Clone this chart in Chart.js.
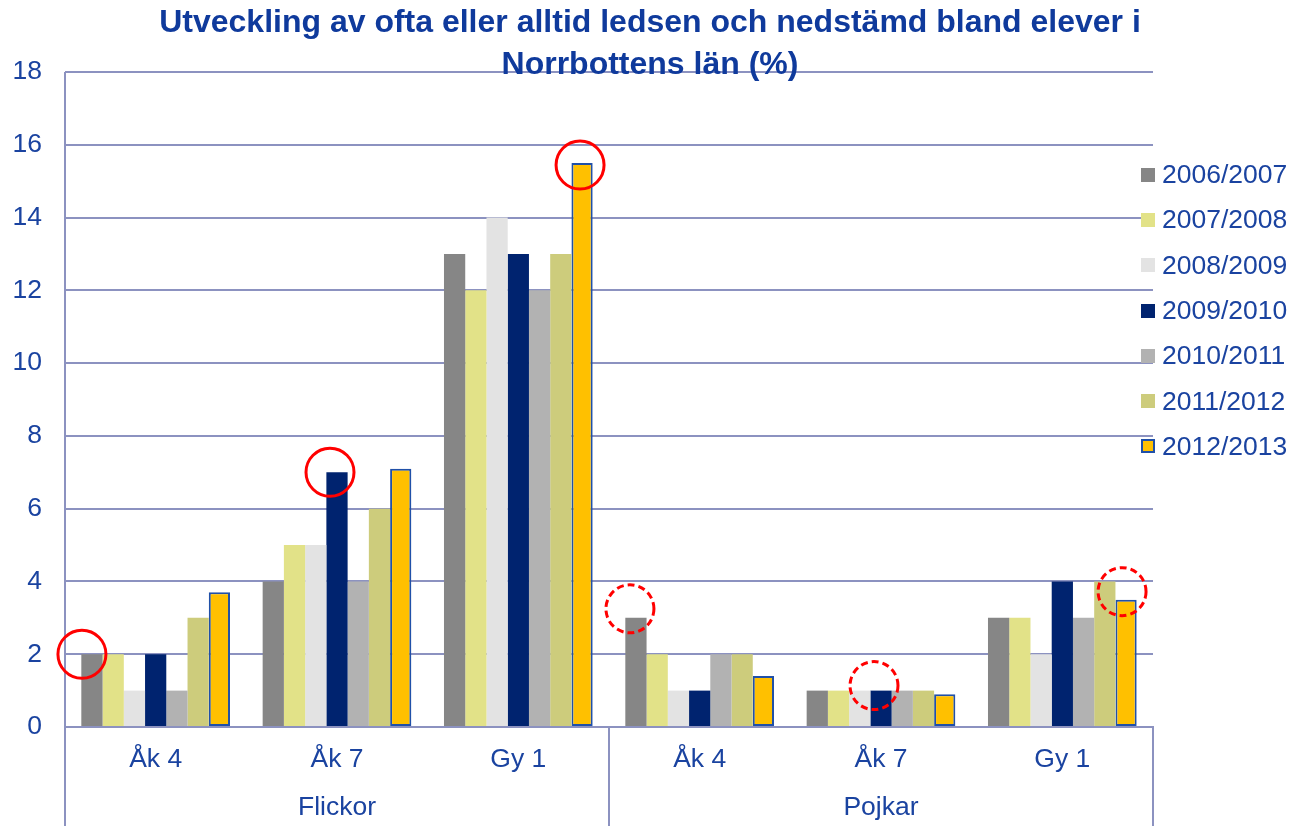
<!DOCTYPE html>
<html lang="sv">
<head>
  <meta charset="UTF-8">
  <title>Utveckling av ofta eller alltid ledsen och nedstämd</title>
  <script src="https://cdn.jsdelivr.net/npm/chart.js"></script>
  <style>
    body {
      margin: 0;
      background: #fff;
      font-family: Arial, "Liberation Sans", sans-serif;
    }
    .wrap {
      position: relative;
      width: 1293px;
      height: 826px;
    }
    .title {
      position: absolute;
      top: 0px;
      left: 0;
      width: 1300px;
      text-align: center;
      font-weight: bold;
      font-size: 32px;
      line-height: 42px;
      color: #0f3a9c;
    }
    .legend {
      position: absolute;
      left: 1141px;
      top: 152px;
      color: #1a43a0;
      font-size: 26.5px;
    }
    .legend div {
      height: 45.3px;
      display: flex;
      align-items: center;
      white-space: nowrap;
    }
    .legend span.box {
      display: inline-block;
      width: 14px;
      height: 14px;
      margin-right: 7px;
      box-sizing: border-box;
    }
    canvas { position: absolute; left: 0; top: 0; }
  </style>
</head>
<body>
  <div class="wrap">
    <canvas id="chart" width="1293" height="826"></canvas>
    <div class="title">Utveckling av ofta eller alltid ledsen och nedstämd bland elever i<br>Norrbottens län (%)</div>
    <div class="legend" id="legend"></div>
  </div>

  <script>
    const categories = ['Åk 4', 'Åk 7', 'Gy 1', 'Åk 4', 'Åk 7', 'Gy 1'];
    const groups = ['Flickor', 'Pojkar'];
    const years = ['2006/2007', '2007/2008', '2008/2009', '2009/2010', '2010/2011', '2011/2012', '2012/2013'];

    // one array per school year, in category order
    const y0607 = [2, 4, 13, 3, 1, 3];
    const y0708 = [2, 5, 12, 2, 1, 3];
    const y0809 = [1, 5, 14, 1, 1, 2];
    const y0910 = [2, 7, 13, 1, 1, 4];
    const y1011 = [1, 4, 12, 2, 1, 3];
    const y1112 = [3, 6, 13, 2, 1, 4];
    const y1213 = [3.7, 7.1, 15.5, 1.4, 0.9, 3.5];

    const yTicks = [0, 2, 4, 6, 8, 10, 12, 14, 16, 18];

    const seriesValues = [y0607, y0708, y0809, y0910, y1011, y1112, y1213];
    const colors = ['#868686', '#e2e288', '#e3e3e3', '#00236f', '#b2b2b2', '#cdcc7c', '#ffc000'];

    const blue = '#1a43a0';
    const gridColor = '#8c92c0';
    const tickFont = { family: 'Arial', size: 26.5 };

    // circled marks: [category, dataset, dx, dy, dashed]
    const marks = [
      [0, 0, -10, 0, false],
      [1, 3, -7, 0, false],
      [2, 6, -2, 2, false],
      [3, 0, -6, -9, true],
      [4, 3, -7, -5, true],
      [5, 6, -4, -8, true]
    ];

    const legendEl = document.getElementById('legend');
    years.forEach((y, i) => {
      const row = document.createElement('div');
      const box = document.createElement('span');
      box.className = 'box';
      box.style.background = colors[i];
      if (i === 6) box.style.border = '2px solid #2050a8';
      row.appendChild(box);
      row.appendChild(document.createTextNode(y));
      legendEl.appendChild(row);
    });

    const extraLines = {
      id: 'extraLines',
      afterDraw(chart) {
        const ctx = chart.ctx;
        const area = chart.chartArea;
        const x = chart.scales.x;
        const h = chart.height;
        const mid = (x.getPixelForValue(2) + x.getPixelForValue(3)) / 2;
        ctx.save();
        ctx.strokeStyle = gridColor;
        ctx.lineWidth = 2;
        ctx.beginPath();
        ctx.moveTo(area.left, area.top);
        ctx.lineTo(area.left, h);
        ctx.moveTo(mid, area.bottom);
        ctx.lineTo(mid, h);
        ctx.moveTo(area.right, area.bottom);
        ctx.lineTo(area.right, h);
        ctx.stroke();

        ctx.strokeStyle = '#ff0000';
        ctx.lineWidth = 3;
        marks.forEach(([c, d, dx, dy, dashed]) => {
          const el = chart.getDatasetMeta(d).data[c];
          ctx.setLineDash(dashed ? [7, 4] : []);
          ctx.beginPath();
          ctx.arc(el.x + dx, el.y + dy, 24, 0, Math.PI * 2);
          ctx.stroke();
        });
        ctx.restore();
      }
    };

    new Chart(document.getElementById('chart'), {
      type: 'bar',
      data: {
        labels: categories,
        datasets: years.map((y, i) => ({
          label: y,
          data: seriesValues[i],
          backgroundColor: colors[i],
          borderColor: i === 6 ? '#2050a8' : colors[i],
          borderWidth: i === 6 ? 2 : 0,
          borderSkipped: false,
          categoryPercentage: 0.82,
          barPercentage: 1
        }))
      },
      options: {
        responsive: false,
        animation: false,
        layout: { padding: { left: 13, right: 140, top: 72, bottom: 5 } },
        plugins: {
          legend: { display: false },
          tooltip: { enabled: false }
        },
        scales: {
          y: {
            min: 0,
            max: 18,
            afterBuildTicks: axis => { axis.ticks = yTicks.map(v => ({ value: v })); },
            afterFit: axis => { axis.width = 52; },
            grid: { color: gridColor, lineWidth: 2, drawTicks: false },
            border: { display: false },
            ticks: { color: blue, padding: 23, font: tickFont }
          },
          x: {
            afterFit: axis => { axis.height = 48; },
            grid: { display: false, drawTicks: false },
            border: { color: gridColor, width: 2 },
            ticks: { color: blue, padding: 17, font: tickFont }
          },
          x2: {
            type: 'category',
            labels: groups,
            position: 'bottom',
            offset: true,
            afterFit: axis => { axis.height = 46; },
            grid: { display: false, drawTicks: false },
            border: { display: false },
            ticks: { color: blue, padding: 17, font: tickFont }
          }
        }
      },
      plugins: [extraLines]
    });
  </script>
</body>
</html>
